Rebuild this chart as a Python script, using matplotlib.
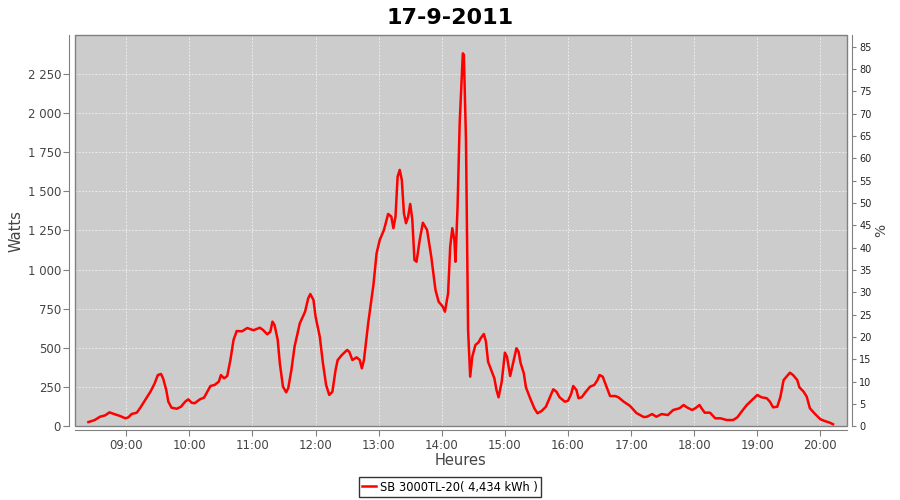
import matplotlib
matplotlib.use("Agg")
import matplotlib.pyplot as plt
from matplotlib.patches import Rectangle

# 数据: 逆变器功率 (W), 17-9-2011
heures = [
    "08:24", "08:30", "08:35", "08:40", "08:44", "08:49", "08:54", "08:59", "09:02", "09:05",
    "09:10", "09:13", "09:18", "09:23", "09:27", "09:30", "09:33", "09:35", "09:38", "09:40",
    "09:43", "09:48", "09:52", "09:56", "09:59", "10:02", "10:05", "10:10", "10:14", "10:20",
    "10:24", "10:28", "10:30", "10:33", "10:36", "10:39", "10:42", "10:45", "10:50", "10:55",
    "11:01", "11:07", "11:10", "11:14", "11:17", "11:19", "11:21", "11:24", "11:26", "11:29",
    "11:32", "11:34", "11:37", "11:40", "11:45", "11:50", "11:53", "11:55", "11:58", "12:00",
    "12:04", "12:07", "12:10", "12:13", "12:16", "12:19", "12:21", "12:25", "12:30", "12:32",
    "12:35", "12:39", "12:42", "12:44", "12:46", "12:50", "12:53", "12:55", "12:58", "13:01",
    "13:05", "13:09", "13:12", "13:14", "13:16", "13:18", "13:20", "13:22", "13:24", "13:26",
    "13:28", "13:30", "13:32", "13:34", "13:36", "13:39", "13:42", "13:46", "13:50", "13:54",
    "13:57", "14:01", "14:03", "14:06", "14:08", "14:10", "14:12", "14:13", "14:15", "14:17",
    "14:20", "14:21", "14:23", "14:25", "14:27", "14:29", "14:32", "14:35", "14:37", "14:40",
    "14:42", "14:44", "14:47", "14:50", "14:52", "14:54", "14:57", "15:00", "15:02", "15:05",
    "15:07", "15:11", "15:13", "15:15", "15:18", "15:20", "15:24", "15:28", "15:31", "15:35",
    "15:39", "15:43", "15:46", "15:49", "15:52", "15:57", "16:00", "16:03", "16:05", "16:08",
    "16:10", "16:13", "16:17", "16:21", "16:25", "16:28", "16:30", "16:33", "16:36", "16:40",
    "16:45", "16:48", "16:53", "16:59", "17:05", "17:12", "17:15", "17:20", "17:24", "17:29",
    "17:35", "17:40", "17:46", "17:50", "17:53", "17:58", "18:01", "18:05", "18:07", "18:10",
    "18:15", "18:20", "18:25", "18:31", "18:37", "18:41", "18:45", "18:50", "18:55", "19:00",
    "19:04", "19:09", "19:12", "19:15", "19:19", "19:22", "19:25", "19:29", "19:31", "19:34",
    "19:38", "19:40", "19:44", "19:47", "19:50", "19:55", "20:00", "20:04", "20:09", "20:12",
]
watts = [
    27, 40, 61, 70, 89, 77, 66, 51, 57, 78,
    87, 115, 168, 221, 274, 327, 334, 306, 232, 157,
    119, 112, 125, 157, 172, 151, 147, 172, 183, 257,
    264, 285, 327, 306, 321, 423, 551, 608, 606, 627,
    613, 629, 615, 587, 604, 668, 646, 551, 402, 253,
    217, 243, 359, 508, 657, 731, 817, 844, 806, 699,
    572, 402, 264, 200, 221, 359, 423, 455, 487, 476,
    423, 440, 423, 370, 423, 657, 806, 902, 1104, 1189,
    1253, 1355, 1338, 1264, 1338, 1593, 1636, 1572, 1359, 1296,
    1338, 1419, 1317, 1061, 1050, 1189, 1299, 1253, 1082, 870,
    795, 763, 731, 849, 1146, 1264, 1189, 1050, 1401, 1934,
    2380, 2370, 1827, 615, 317, 444, 519, 536, 562, 589,
    540, 412, 359, 306, 232, 185, 285, 470, 444, 321,
    380, 498, 476, 402, 338, 249, 179, 115, 83, 98,
    125, 189, 236, 221, 185, 157, 163, 206, 257, 232,
    179, 185, 221, 253, 264, 295, 327, 317, 264, 193,
    193, 185, 157, 130, 85, 59, 61, 78, 61, 78,
    72, 104, 115, 136, 121, 104, 115, 136, 115, 87,
    87, 51, 51, 40, 40, 57, 93, 136, 168, 200,
    185, 179, 157, 121, 125, 189, 295, 327, 342, 327,
    295, 249, 221, 189, 115, 78, 45, 34, 23, 13,
]

x_ticks = [9, 10, 11, 12, 13, 14, 15, 16, 17, 18, 19, 20]
x_labels = ["09:00", "10:00", "11:00", "12:00", "13:00", "14:00",
            "15:00", "16:00", "17:00", "18:00", "19:00", "20:00"]
w_ticks = [0, 250, 500, 750, 1000, 1250, 1500, 1750, 2000, 2250]
w_labels = ["0", "250", "500", "750", "1 000", "1 250", "1 500", "1 750", "2 000", "2 250"]
pct_ticks = list(range(0, 90, 5))

titre = "17-9-2011"
serie = "SB 3000TL-20( 4,434 kWh )"

GRIS = "#808080"
TEXTE = "#444444"


def to_hours(s):
    h, m = s.split(":")
    return int(h) + int(m) / 60.0


t = [to_hours(s) for s in heures]

fig = plt.figure(figsize=(9, 5), dpi=100)
ax = fig.add_axes([0.0833, 0.1474, 0.8575, 0.7826])
ax.set_facecolor("#cccccc")

line, = ax.plot(t, watts, color="#ff0000", linewidth=1.8, label=serie, zorder=3)

ax.set_xlim(8.187, 20.417)
ax.set_ylim(0, 2497)
ax.set_xticks(x_ticks)
ax.set_xticklabels(x_labels)
ax.set_yticks(w_ticks)
ax.set_yticklabels(w_labels)

# 网格: 白色虚线
ax.grid(True, color="#f4f4f4", linestyle=(0, (2, 2)), linewidth=0.6)
ax.set_axisbelow(True)

# 轴线外移 (JFreeChart 风格)
ax.spines["left"].set_position(("outward", 4))
ax.spines["bottom"].set_position(("outward", 3))
ax.spines["right"].set_visible(False)
ax.spines["top"].set_visible(False)
for sp in ("left", "bottom"):
    ax.spines[sp].set_color(GRIS)
ax.add_patch(Rectangle((0, 0), 1, 1, transform=ax.transAxes, fill=False,
                       edgecolor=GRIS, linewidth=1, clip_on=False, zorder=4))

ax.tick_params(direction="out", length=4, width=0.8, color=GRIS,
               labelcolor=TEXTE, labelsize=8.5, pad=2)

ax.set_xlabel("Heures", fontsize=10.5, color=TEXTE, labelpad=1)
ax.set_ylabel("Watts", fontsize=10.5, color=TEXTE, labelpad=3)

# 右轴: 百分比
ax2 = ax.twinx()
ax2.set_ylim(0, 87.6)
ax2.set_yticks(pct_ticks)
for sp in ("left", "top", "bottom"):
    ax2.spines[sp].set_visible(False)
ax2.spines["right"].set_position(("outward", 4))
ax2.spines["right"].set_color(GRIS)
ax2.tick_params(direction="out", length=3, width=0.8, color=GRIS,
                labelcolor="#222222", labelsize=7, pad=2)
ax2.set_ylabel("%", fontsize=10, color=TEXTE, labelpad=2)

fig.suptitle(titre, fontsize=16, fontweight="bold", y=0.985)

leg = fig.legend(handles=[line], loc="center", bbox_to_anchor=(0.5, 0.026),
                 fontsize=8.3, frameon=True, fancybox=False, handlelength=1.2,
                 handletextpad=0.3, borderpad=0.3, borderaxespad=0)
leg.get_frame().set_edgecolor("black")
leg.get_frame().set_linewidth(1)

fig.savefig("out.png", dpi=100)
